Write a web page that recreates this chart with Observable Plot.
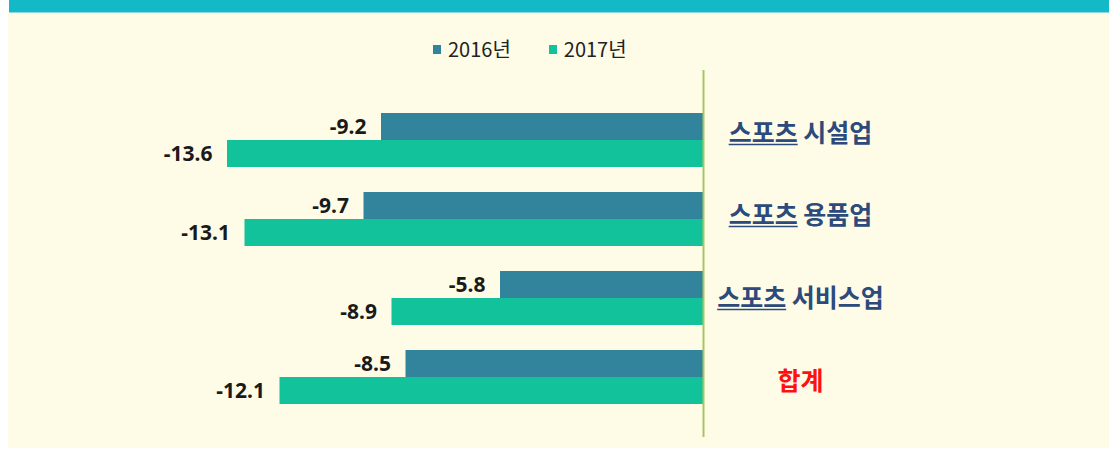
<!DOCTYPE html>
<html>
<head>
<meta charset="utf-8">
<script src="https://cdn.jsdelivr.net/npm/d3@7"></script>
<script src="https://cdn.jsdelivr.net/npm/@observablehq/plot@0.6"></script>
<style>
  html, body { margin: 0; padding: 0; background: #ffffff; }
  #frame { position: relative; width: 1109px; height: 449px; overflow: hidden; font-family: "Noto Sans CJK KR", "Noto Sans", sans-serif; }
  #topbar { position: absolute; left: 9px; top: 0; right: 0; height: 12px; background: #13b9c7; border-bottom: 1px solid #8fd9e2; }
  #panel { position: absolute; left: 8px; top: 13px; right: 0; bottom: 1px; background: #fefce6; }
  #legend { position: absolute; left: 433px; top: 35px; display: flex; align-items: center; font-size: 20px; line-height: 28px; color: #222; }
  #legend .item { display: flex; align-items: center; margin-right: 38px; }
  #legend .sw { width: 8px; height: 9px; margin-right: 7px; }
  #chart { position: absolute; left: 0; top: 0; }
</style>
</head>
<body>
<div id="frame">
  <div id="topbar"></div>
  <div id="panel"></div>
  <div id="legend"></div>
  <div id="chart"></div>
</div>
<script>
const categories = ["스포츠 시설업", "스포츠 용품업", "스포츠 서비스업", "합계"];
const years = ["2016년", "2017년"];
const values2016 = [-9.2, -9.7, -5.8, -8.5];
const values2017 = [-13.6, -13.1, -8.9, -12.1];
const colors = ["#31849b", "#11c29a"];
const labelShift = [-7, -4, 0, 4];

const data16 = categories.map((c, i) => ({category: c, year: years[0], value: values2016[i]}));
const data17 = categories.map((c, i) => ({category: c, year: years[1], value: values2017[i]}));

const numberStyle = {x: "value", y: "category", text: d => d.value.toFixed(1), textAnchor: "end", dx: -15, fontSize: 21, fontWeight: "bold", fill: "#1a1a1a", fontFamily: "Noto Sans"};

const chart = Plot.plot({
  width: 1109,
  height: 449,
  marginLeft: 0,
  marginRight: 406,
  marginTop: 70,
  marginBottom: 12,
  style: {background: "transparent", overflow: "visible"},
  x: {domain: [-703 / 35, 0], axis: null},
  y: {domain: categories, paddingInner: 0.319, paddingOuter: 0, insetTop: 42, insetBottom: 33, axis: null},
  color: {domain: years, range: colors},
  marks: [
    Plot.barX(data16, {x: "value", y: "category", fill: "year", insetBottom: 27}),
    Plot.barX(data17, {x: "value", y: "category", fill: "year", insetTop: 27}),
    Plot.text(data16, {...numberStyle, dy: -13.5}),
    Plot.text(data17, {...numberStyle, dy: 14}),
    Plot.ruleX([0], {stroke: "#a5c763", strokeWidth: 2}),
    ...categories.map((c, i) => Plot.text([c], {y: d => d, text: d => d, frameAnchor: "right", dx: 97, dy: labelShift[i], textAnchor: "middle", fontSize: 25, fontWeight: 600, fill: c === "합계" ? "#ff1010" : "#2c4a7c", fontFamily: "Noto Sans CJK KR"}))
  ]
});
document.getElementById("chart").appendChild(chart);

// underline the "스포츠" prefix in category labels
const prefix = "스포츠";
d3.select(chart).selectAll("text").each(function() {
  const s = this.textContent;
  if (!s.startsWith(prefix)) return;
  const bb = this.getBBox();
  const w = this.getSubStringLength(0, prefix.length);
  const yLine = bb.y + bb.height - 4;
  d3.select(this.parentNode).append("line")
    .attr("x1", bb.x).attr("x2", bb.x + w)
    .attr("y1", yLine).attr("y2", yLine)
    .attr("transform", this.getAttribute("transform"))
    .attr("stroke", "#2c4a7c").attr("stroke-width", 1.5);
});

const legend = d3.select("#legend");
years.forEach((y, i) => {
  const item = legend.append("div").attr("class", "item");
  item.append("div").attr("class", "sw").style("background", colors[i]);
  item.append("span").text(y);
});
</script>
</body>
</html>
